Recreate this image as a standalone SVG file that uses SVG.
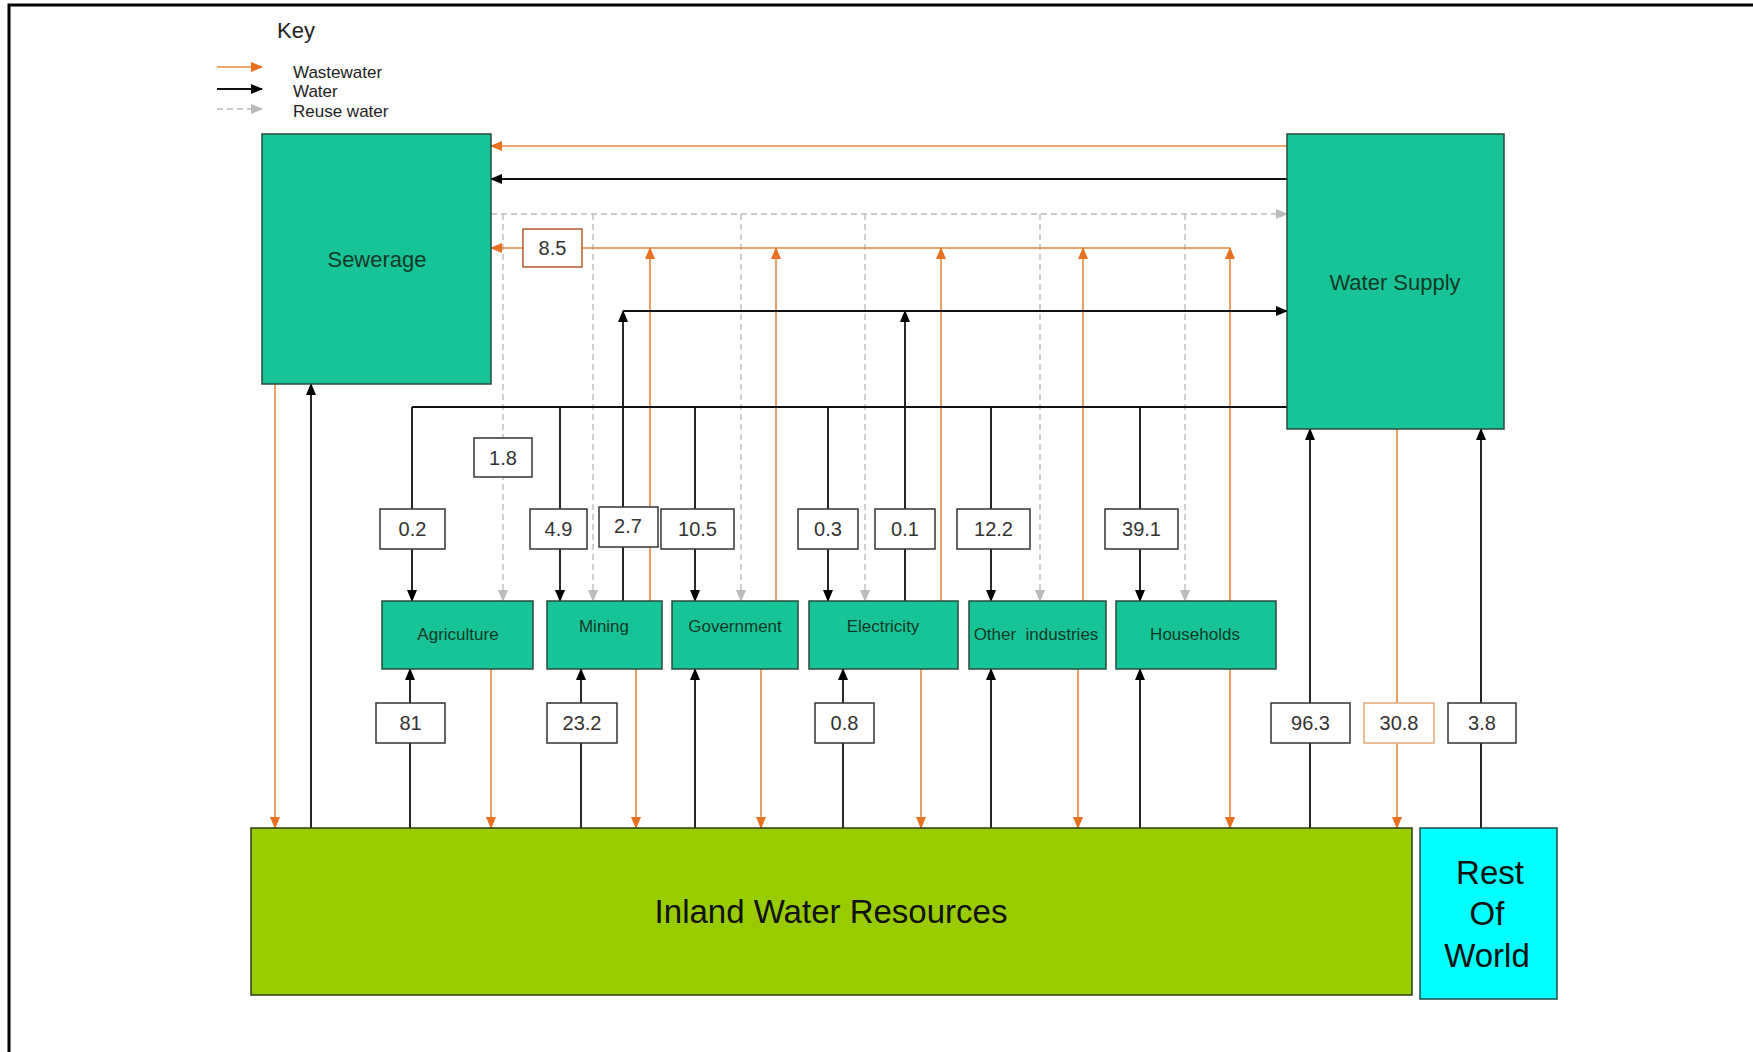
<svg xmlns="http://www.w3.org/2000/svg" width="1753" height="1052" viewBox="0 0 1753 1052">
<style>
.node{fill:#17C497;stroke:#2A4A3C;stroke-width:1.5}
.ntxt{font-family:"Liberation Sans",Arial,sans-serif;fill:#143826;text-anchor:middle}
.lab{fill:#fff;stroke:#333;stroke-width:1.5}
.lab-o{stroke:#B85A2A}
.lab-lo{stroke:#E2A878}
.ltxt{font-family:"Liberation Sans",Arial,sans-serif;font-size:20px;fill:#333;text-anchor:middle}
.ww{fill:none;stroke:#E8883E;stroke-width:1.6}
.w{fill:none;stroke:#111;stroke-width:1.8}
.rw{fill:none;stroke:#BBBBBB;stroke-width:1.4;stroke-dasharray:6 4}
.key{font-family:"Liberation Sans",Arial,sans-serif;fill:#222}
.big{fill:#111}
</style>
<defs>
<marker id="ao" markerUnits="userSpaceOnUse" markerWidth="12" markerHeight="10" refX="11" refY="5" orient="auto"><path d="M0,0 L12,5 L0,10 z" fill="#E8701E"/></marker>
<marker id="ab" markerUnits="userSpaceOnUse" markerWidth="12" markerHeight="10" refX="11" refY="5" orient="auto"><path d="M0,0 L12,5 L0,10 z" fill="#000"/></marker>
<marker id="ag" markerUnits="userSpaceOnUse" markerWidth="12" markerHeight="10" refX="11" refY="5" orient="auto"><path d="M0,0 L12,5 L0,10 z" fill="#BBBBBB"/></marker>
</defs>
<rect width="1753" height="1052" fill="#fff"/>
<path d="M9,1052 V5 H1753" fill="none" stroke="#000" stroke-width="3"/>

<g id="key">
<text class="key" x="277" y="38" font-size="22">Key</text>
<line class="ww" x1="217" y1="67" x2="262" y2="67" marker-end="url(#ao)"/>
<line class="w" x1="217" y1="89" x2="262" y2="89" marker-end="url(#ab)"/>
<line class="rw" x1="217" y1="109" x2="262" y2="109" marker-end="url(#ag)"/>
<text class="key" x="293" y="78" font-size="17">Wastewater</text>
<text class="key" x="293" y="97" font-size="17">Water</text>
<text class="key" x="293" y="117" font-size="17">Reuse water</text>
</g>

<g id="connectors">
<path class="rw" d="M491,214 H1287" marker-end="url(#ag)"/>
<path class="rw" d="M503,214 V601" marker-end="url(#ag)"/>
<path class="rw" d="M593,214 V601" marker-end="url(#ag)"/>
<path class="rw" d="M741,214 V601" marker-end="url(#ag)"/>
<path class="rw" d="M865,214 V601" marker-end="url(#ag)"/>
<path class="rw" d="M1040,214 V601" marker-end="url(#ag)"/>
<path class="rw" d="M1185,214 V601" marker-end="url(#ag)"/>
<path class="ww" d="M1287,146 H491" marker-end="url(#ao)"/>
<path class="ww" d="M1230,248 H491" marker-end="url(#ao)"/>
<path class="ww" d="M650,601 V248" marker-end="url(#ao)"/>
<path class="ww" d="M776,601 V248" marker-end="url(#ao)"/>
<path class="ww" d="M941,601 V248" marker-end="url(#ao)"/>
<path class="ww" d="M1083,601 V248" marker-end="url(#ao)"/>
<path class="ww" d="M1230,601 V248" marker-end="url(#ao)"/>
<path class="ww" d="M275,384 V828" marker-end="url(#ao)"/>
<path class="ww" d="M491,669 V828" marker-end="url(#ao)"/>
<path class="ww" d="M636,669 V828" marker-end="url(#ao)"/>
<path class="ww" d="M761,669 V828" marker-end="url(#ao)"/>
<path class="ww" d="M921,669 V828" marker-end="url(#ao)"/>
<path class="ww" d="M1078,669 V828" marker-end="url(#ao)"/>
<path class="ww" d="M1230,669 V828" marker-end="url(#ao)"/>
<path class="ww" d="M1397,429 V828" marker-end="url(#ao)"/>
<path class="w" d="M1287,179 H491" marker-end="url(#ab)"/>
<path class="w" d="M1287,407 H412"/>
<path class="w" d="M412,407 V601" marker-end="url(#ab)"/>
<path class="w" d="M560,407 V601" marker-end="url(#ab)"/>
<path class="w" d="M695,407 V601" marker-end="url(#ab)"/>
<path class="w" d="M828,407 V601" marker-end="url(#ab)"/>
<path class="w" d="M991,407 V601" marker-end="url(#ab)"/>
<path class="w" d="M1140,407 V601" marker-end="url(#ab)"/>
<path class="w" d="M623,601 V311" marker-end="url(#ab)"/>
<path class="w" d="M905,601 V311" marker-end="url(#ab)"/>
<path class="w" d="M623,311 H1287" marker-end="url(#ab)"/>
<path class="w" d="M311,828 V384" marker-end="url(#ab)"/>
<path class="w" d="M410,828 V669" marker-end="url(#ab)"/>
<path class="w" d="M581,828 V669" marker-end="url(#ab)"/>
<path class="w" d="M695,828 V669" marker-end="url(#ab)"/>
<path class="w" d="M843,828 V669" marker-end="url(#ab)"/>
<path class="w" d="M991,828 V669" marker-end="url(#ab)"/>
<path class="w" d="M1140,828 V669" marker-end="url(#ab)"/>
<path class="w" d="M1310,828 V429" marker-end="url(#ab)"/>
<path class="w" d="M1481,828 V429" marker-end="url(#ab)"/>
</g>

<g id="labels">
<rect class="lab lab-o" x="523" y="229" width="59" height="38"/><text class="ltxt" x="552.5" y="255">8.5</text>
<rect class="lab" x="474" y="438" width="58" height="39"/><text class="ltxt" x="503" y="465">1.8</text>
<rect class="lab" x="380" y="509" width="65" height="40"/><text class="ltxt" x="412.5" y="536">0.2</text>
<rect class="lab" x="530" y="509" width="57" height="40"/><text class="ltxt" x="558.5" y="536">4.9</text>
<rect class="lab" x="599" y="507" width="59" height="40"/><text class="ltxt" x="628" y="533">2.7</text>
<rect class="lab" x="661" y="509" width="73" height="40"/><text class="ltxt" x="697.5" y="536">10.5</text>
<rect class="lab" x="798" y="509" width="60" height="40"/><text class="ltxt" x="828" y="536">0.3</text>
<rect class="lab" x="875" y="509" width="60" height="40"/><text class="ltxt" x="905" y="536">0.1</text>
<rect class="lab" x="957" y="509" width="73" height="40"/><text class="ltxt" x="993.5" y="536">12.2</text>
<rect class="lab" x="1105" y="509" width="73" height="40"/><text class="ltxt" x="1141.5" y="536">39.1</text>
<rect class="lab" x="376" y="703" width="69" height="40"/><text class="ltxt" x="410.5" y="730">81</text>
<rect class="lab" x="547" y="703" width="70" height="40"/><text class="ltxt" x="582" y="730">23.2</text>
<rect class="lab" x="815" y="703" width="59" height="40"/><text class="ltxt" x="844.5" y="730">0.8</text>
<rect class="lab" x="1271" y="703" width="79" height="40"/><text class="ltxt" x="1310.5" y="730">96.3</text>
<rect class="lab lab-lo" x="1364" y="703" width="70" height="40"/><text class="ltxt" x="1399" y="730">30.8</text>
<rect class="lab" x="1448" y="703" width="68" height="40"/><text class="ltxt" x="1482" y="730">3.8</text>
</g>

<g id="sewerage"><rect class="node" x="262" y="134" width="229" height="250"/><text class="ntxt" x="377" y="267" font-size="22">Sewerage</text></g>
<g id="water-supply"><rect class="node" x="1287" y="134" width="217" height="295"/><text class="ntxt" x="1395" y="290" font-size="22">Water Supply</text></g>
<g id="agriculture"><rect class="node" x="382" y="601" width="151" height="68"/><text class="ntxt" x="458" y="640" font-size="17">Agriculture</text></g>
<g id="mining"><rect class="node" x="547" y="601" width="115" height="68"/><text class="ntxt" x="604" y="632" font-size="17">Mining</text></g>
<g id="government"><rect class="node" x="672" y="601" width="126" height="68"/><text class="ntxt" x="735" y="632" font-size="17">Government</text></g>
<g id="electricity"><rect class="node" x="809" y="601" width="149" height="68"/><text class="ntxt" x="883" y="632" font-size="17">Electricity</text></g>
<g id="other-industries"><rect class="node" x="969" y="601" width="137" height="68"/><text class="ntxt" x="1036" y="640" font-size="17" xml:space="preserve">Other  industries</text></g>
<g id="households"><rect class="node" x="1116" y="601" width="160" height="68"/><text class="ntxt" x="1195" y="640" font-size="17">Households</text></g>
<g id="inland"><rect x="251" y="828" width="1161" height="167" fill="#99CC00" stroke="#2E3A10" stroke-width="1.5"/><text class="ntxt big" x="831" y="923" font-size="33">Inland Water Resources</text></g>
<g id="rest-of-world"><rect x="1420" y="828" width="137" height="171" fill="#00FFFF" stroke="#1E4A4A" stroke-width="1.5"/>
<text class="ntxt big" x="1490" y="884" font-size="33">Rest</text>
<text class="ntxt big" x="1487" y="925" font-size="33">Of</text>
<text class="ntxt big" x="1487" y="967" font-size="33">World</text></g>
</svg>
